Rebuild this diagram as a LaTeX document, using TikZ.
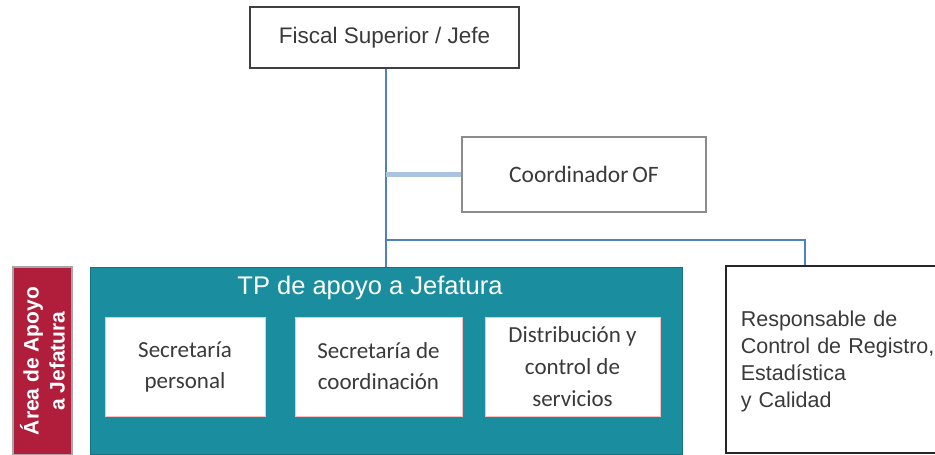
\documentclass[tikz,border=0pt]{standalone}
\usepackage{fontspec}
\setmainfont{Liberation Sans}
\newfontfamily\calib{Carlito}
\definecolor{tealbox}{HTML}{1A8E9E}
\definecolor{redbox}{HTML}{B01E3C}
\definecolor{conn}{HTML}{4F81BD}
\definecolor{connlight}{HTML}{A9C3E0}
\definecolor{txt}{HTML}{3A3A3A}
\begin{document}
\begin{tikzpicture}[x=1pt,y=-1pt,
  plainbox/.style={draw=#1, fill=white, line width=1.6pt, inner sep=0pt},
  inbox/.style={draw=red!25, fill=white, line width=0.8pt, inner sep=0pt,
     minimum height=99pt, align=center, text=txt, font=\calib\fontsize{23}{31}\selectfont},
  link/.style={draw=conn, line width=1.3pt}
]
\clip (0,0) rectangle (935,455);
\fill[white] (0,0) rectangle (935,455);
% top boxes
\node[plainbox=black!75, minimum width=269pt, minimum height=61pt, text=txt,
      font=\fontsize{22.5}{26}\selectfont] (fiscal) at (384.5,37.5) {Fiscal Superior / Jefe};
\node[plainbox=black!45, minimum width=244pt, minimum height=75pt, text=txt,
      font=\calib\fontsize{23.5}{26}\selectfont] (coord) at (584,174.5) {Coordinador\,OF};
% responsible box
\node[plainbox=black!85, minimum height=187pt, text width=205pt, inner xsep=15pt,
      align=left, text=txt, font=\fontsize{21.5}{27}\selectfont, anchor=north west]
      (resp) at (725,265) {\strut Responsable de\\Control de Registro,\\Estadística\\y Calidad\\[6pt]};
% red side box
\node[draw=black!35, fill=redbox, line width=2pt, minimum width=59pt, minimum height=188pt,
      inner sep=0pt] (area) at (42.5,361) {};
\node[rotate=90, text=white, align=center, font=\bfseries\fontsize{21}{26}\selectfont]
      (areatxt) at (area.center) {Área de Apoyo\\a Jefatura};
% teal box
\node[fill=tealbox, draw=tealbox!80!black, line width=0.6pt, minimum width=592pt,
      minimum height=187pt, inner sep=0pt] (tp) at (386,360.5) {};
\node[text=white, font=\fontsize{25.5}{28}\selectfont] (tptitle) at (370,288) {TP de apoyo a Jefatura};
\node[inbox, minimum width=160pt] (sec1) at (185,366.5) {Secretaría\\personal};
\node[inbox, minimum width=167pt] (sec2) at (378.5,366.5) {Secretaría de\\coordinación};
\node[inbox, minimum width=175pt, font=\calib\fontsize{23}{32}\selectfont] (dist) at (572.5,366.5)
      {Distribución y\\control de\\servicios};
% connectors
\coordinate (trunk) at (386,240);
\coordinate (drop) at (805,240);
\draw[link] (fiscal.south -| trunk) -- (tp.north -| trunk);
\draw[draw=connlight, line width=4.5pt] (trunk |- coord.west) -- (coord.west);
\draw[link] (trunk) -- (drop) -- (resp.north -| drop);
\end{tikzpicture}
\end{document}
